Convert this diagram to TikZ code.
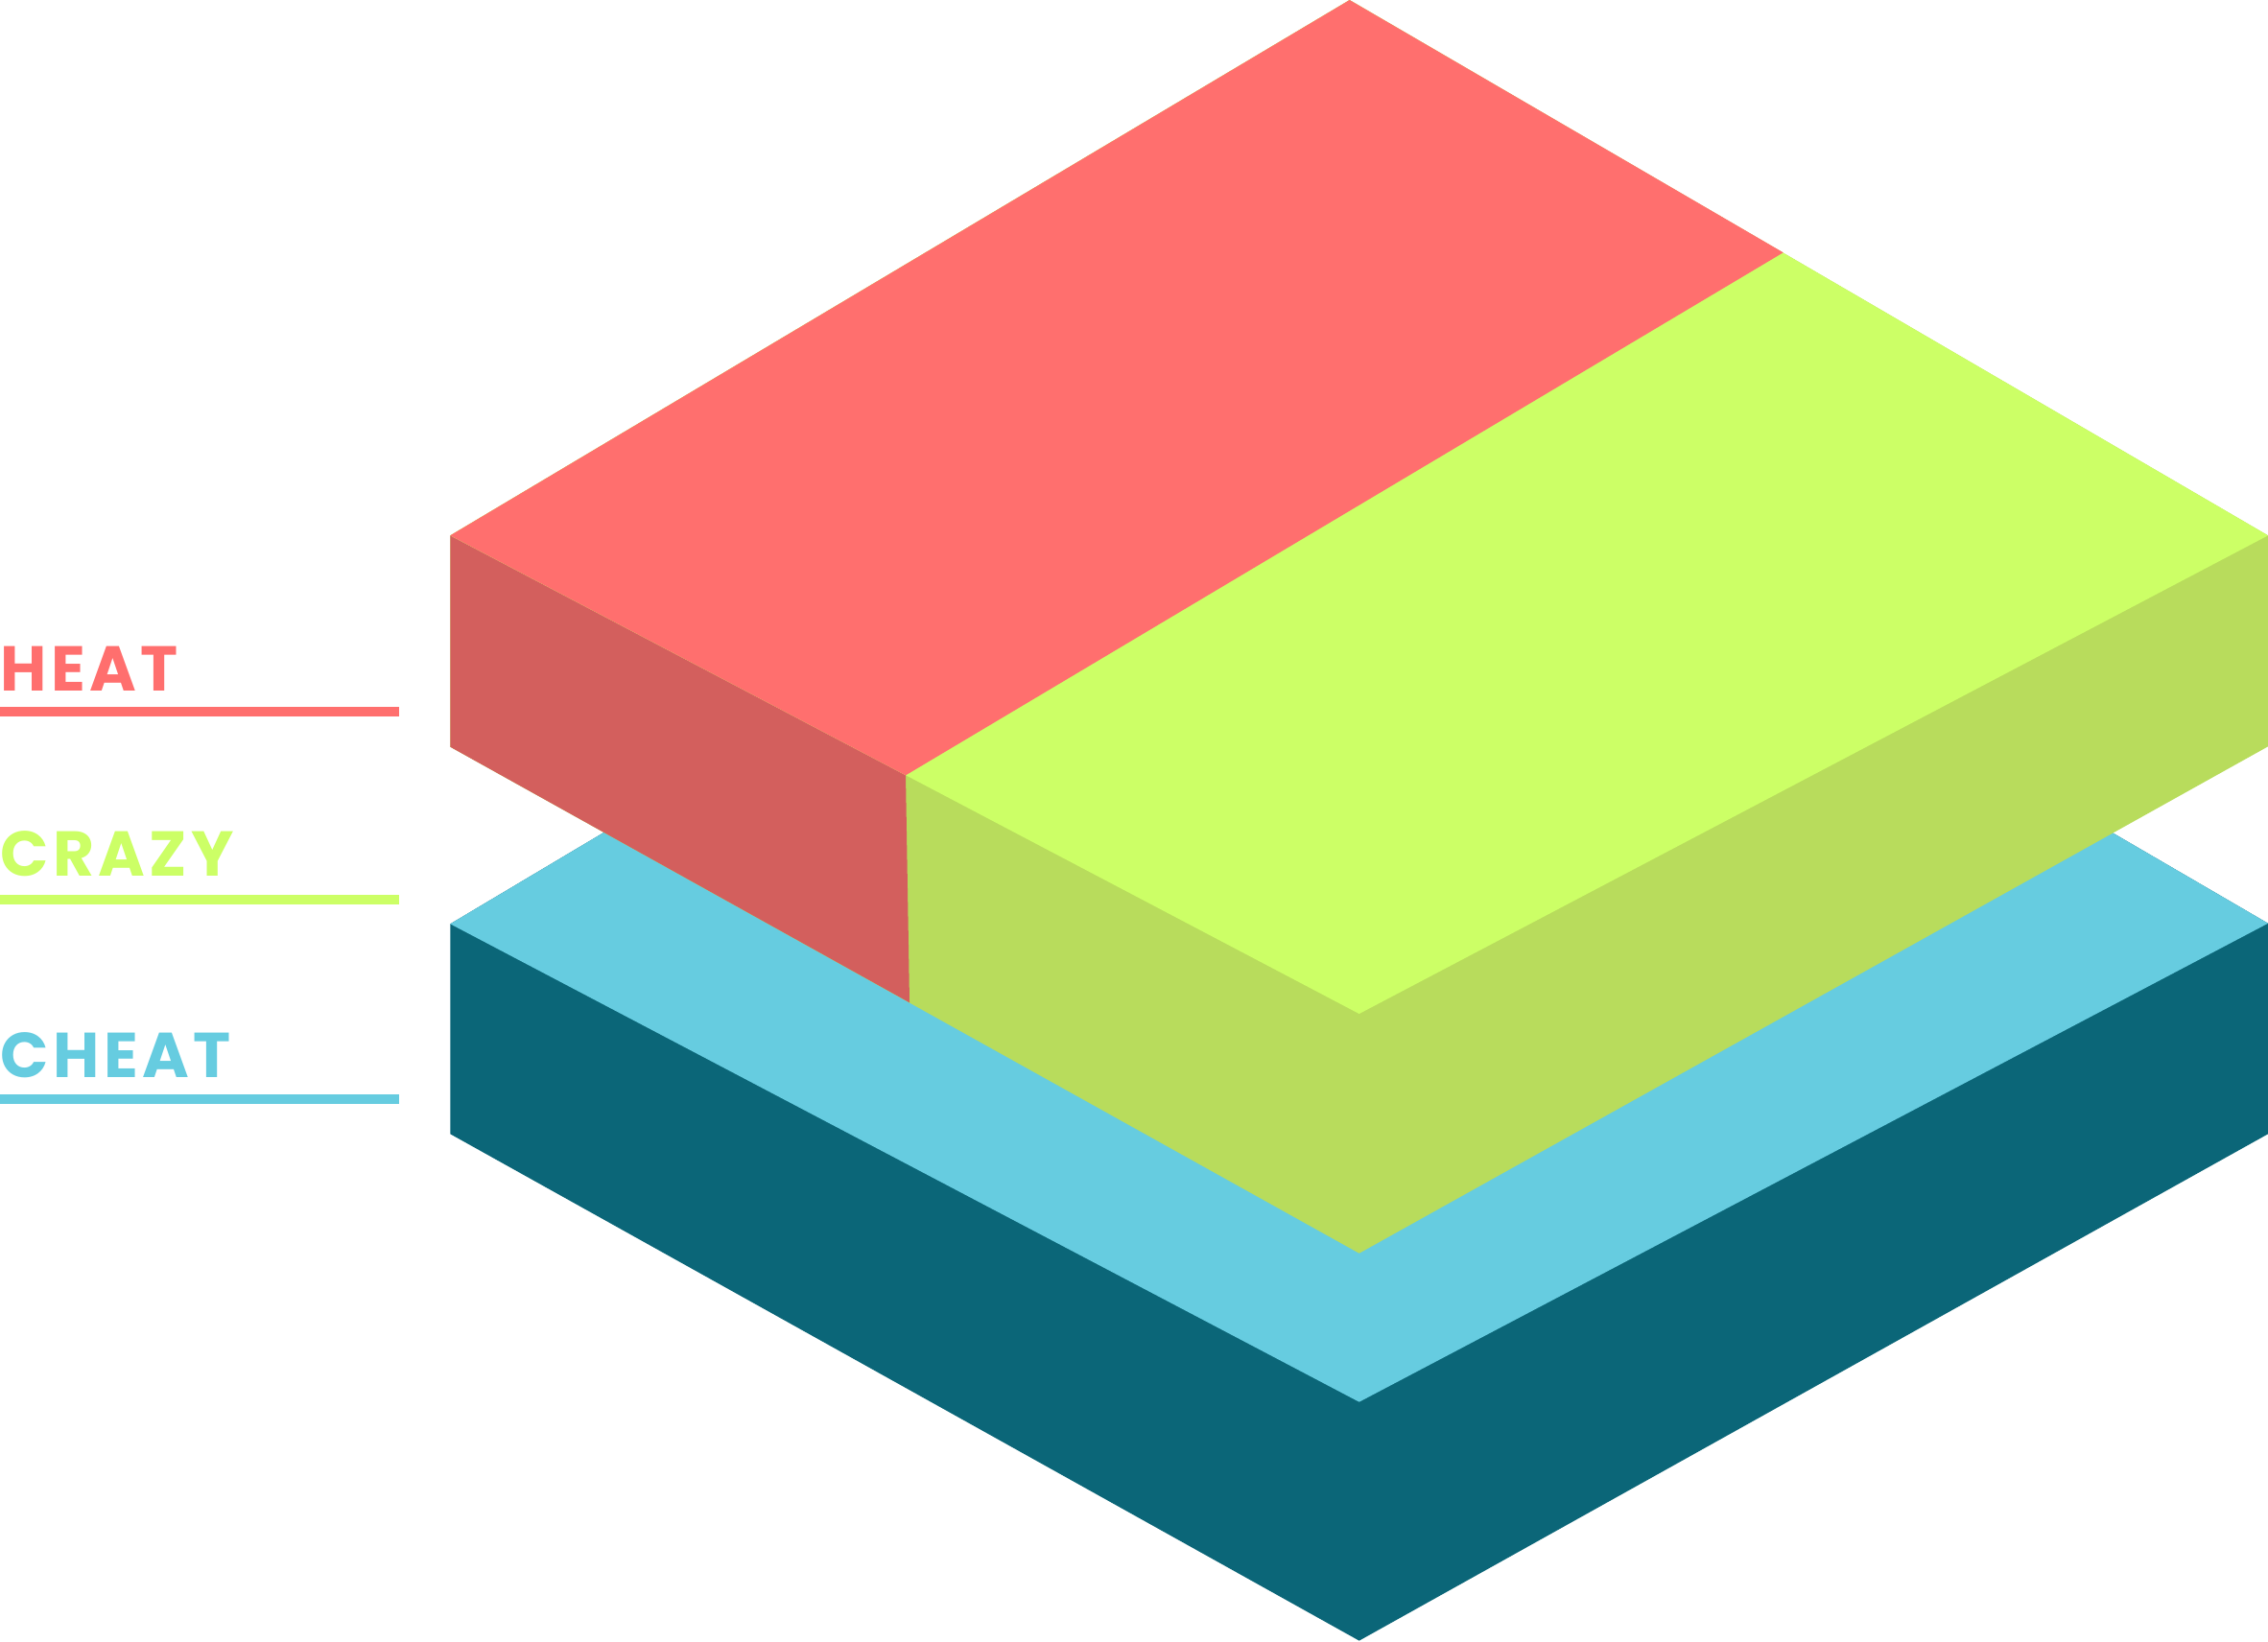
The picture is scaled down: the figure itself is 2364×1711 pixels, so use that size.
\documentclass[tikz,border=0pt]{standalone}
\usepackage{fontspec}
\newfontfamily\labfont{Poppins}[LetterSpace=6.5]
\definecolor{redtop}{HTML}{FF6F6E}
\definecolor{redside}{HTML}{D35F5D}
\definecolor{greentop}{HTML}{CCFF66}
\definecolor{greenside}{HTML}{B8DC5C}
\definecolor{cyantop}{HTML}{66CCE0}
\definecolor{tealside}{HTML}{0B6678}
\begin{document}
\begin{tikzpicture}[x=0.01cm,y=-0.01cm,
  lab/.style={inner sep=0pt, anchor=base west, font=\labfont\bfseries\fontsize{18.8pt}{20pt}\selectfont}]
\useasboundingbox (0,0) rectangle (2364,1711);
% top slab points
\coordinate (A) at (469.3,558.3);
\coordinate (T) at (1406.7,0);
\coordinate (S) at (1858.7,263.3);
\coordinate (R) at (2364,558.3);
\coordinate (F) at (1416.7,1057);
\coordinate (C) at (944,808.3);
\coordinate (D) at (948,1045.3);
\coordinate (BL) at (469.3,778.7);
\coordinate (BF) at (1416.7,1306.7);
\coordinate (BR) at (2364,778.3);
% bottom slab points
\coordinate (CL) at (469.3,963.3);
\coordinate (CT) at (1406.7,405);
\coordinate (CR) at (2364,962.7);
\coordinate (CF) at (1416.7,1461.7);
\coordinate (CBL) at (469.3,1182.3);
\coordinate (CBF) at (1416.7,1710.6);
\coordinate (CBR) at (2364,1182.3);
% bottom slab
\fill[tealside] (CL) -- (CT) -- (CR) -- (CBR) -- (CBF) -- (CBL) -- cycle;
\fill[cyantop] (CL) -- (CT) -- (CR) -- (CF) -- cycle;
% top slab sides
\fill[greenside] (A) -- (T) -- (R) -- (BR) -- (BF) -- (BL) -- cycle;
\fill[redside] (A) -- (C) -- (D) -- (BL) -- cycle;
% top slab faces
\fill[greentop] (A) -- (T) -- (R) -- (F) -- cycle;
\fill[redtop] (A) -- (T) -- (S) -- (C) -- cycle;
% labels
\node[lab, text=redtop] (heat) at (0,720) {HEAT};
\fill[redtop] (0,737.3) rectangle (415.7,747.3);
\node[lab, text=greentop] (crazy) at (0,913) {CRAZY};
\fill[greentop] (0,933.3) rectangle (415.7,943.3);
\node[lab, text=cyantop] (cheat) at (0,1123) {CHEAT};
\fill[cyantop] (0,1141) rectangle (415.7,1151);
\end{tikzpicture}
\end{document}
